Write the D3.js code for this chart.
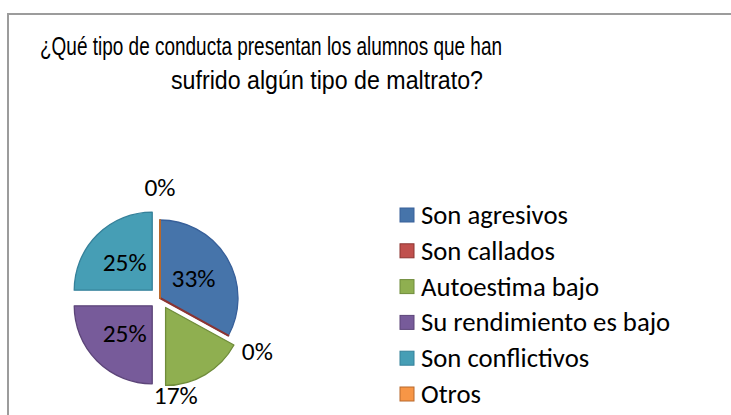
<!DOCTYPE html>
<html>
<head>
<meta charset="utf-8">
<script src="https://cdn.jsdelivr.net/npm/d3@7"></script>
<style>
  html, body { margin: 0; padding: 0; background: #fff; }
  svg { display: block; }
</style>
</head>
<body>
<svg id="chart" width="731" height="415"></svg>
<script>
// ---- data ----
const titleLines = ["¿Qué tipo de conducta presentan los alumnos que han", "sufrido algún tipo de maltrato?"];
const categories = ["Son agresivos", "Son callados", "Autoestima bajo", "Su rendimiento es bajo", "Son conflictivos", "Otros"];
const percentages = [33, 0, 17, 25, 25, 0];

// ---- style ----
const fills   = ["#4674AA", "#C0504D", "#8FAF50", "#775B9A", "#469EB5", "#F79646"];
const strokes = ["#38609A", "#8C3431", "#6F8C3A", "#5C4579", "#35819A", "#B8682C"];
const exploded = new Set(["Autoestima bajo", "Su rendimiento es bajo", "Son conflictivos"]);
const explodeDist = 11;
const cx = 160, cy = 298, R = 78;
const labelFont = "Carlito, Calibri, Lato, 'Open Sans', sans-serif";
const titleFont = "'Liberation Sans Narrow', 'Arial Narrow', 'Liberation Sans', Arial, sans-serif";

const svg = d3.select("#chart");

// outer frame
svg.append("rect")
  .attr("x", 8).attr("y", 14)
  .attr("width", 800).attr("height", 500)
  .attr("fill", "#fff")
  .attr("stroke", "#9c9c9c").attr("stroke-width", 2);

function fitSize(sel, target) {
  const w = sel.node().getComputedTextLength();
  const fs = parseFloat(sel.attr("font-size"));
  return fs * target / w;
}

// title (narrow face: compress glyphs to the reference width)
svg.append("text")
  .attr("x", 40).attr("y", 55)
  .attr("font-family", titleFont).attr("font-size", 26)
  .attr("fill", "#000")
  .attr("textLength", 462).attr("lengthAdjust", "spacingAndGlyphs")
  .text(titleLines[0]);
svg.append("text")
  .attr("x", 171).attr("y", 89)
  .attr("font-family", titleFont).attr("font-size", 26)
  .attr("fill", "#000")
  .attr("textLength", 312).attr("lengthAdjust", "spacingAndGlyphs")
  .text(titleLines[1]);

// pie
const data = categories.map((c, i) => ({ name: c, value: percentages[i], i }));
const pie = d3.pie().sort(null).value(d => d.value).startAngle(0).endAngle(2 * Math.PI);
const arcs = pie(data);
const arc = d3.arc().innerRadius(0).outerRadius(R);

function offset(a) {
  if (!exploded.has(a.data.name)) return [0, 0];
  const m = (a.startAngle + a.endAngle) / 2;
  return [Math.sin(m) * explodeDist, -Math.cos(m) * explodeDist];
}

const g = svg.append("g").attr("transform", `translate(${cx},${cy})`);

const order = arcs.slice().sort((a, b) => (a.value === 0) - (b.value === 0));
g.selectAll("path.slice")
  .data(order)
  .join("path")
  .attr("class", "slice")
  .attr("transform", d => { const o = offset(d); return `translate(${o[0]},${o[1]})`; })
  .attr("d", arc)
  .attr("fill", d => fills[d.data.i])
  .attr("stroke", d => strokes[d.data.i])
  .attr("stroke-width", d => d.value === 0 ? 2 : 1.3)
  .attr("stroke-linejoin", "round");

// labels
const lab = g.selectAll("text.lbl")
  .data(arcs)
  .join("text")
  .attr("class", "lbl")
  .attr("font-family", labelFont)
  .attr("font-size", 24)
  .attr("fill", "#000")
  .attr("text-anchor", "middle")
  .attr("dominant-baseline", "central")
  .text(d => Math.round(d.value) + "%");

const pctSize = fitSize(lab.filter(d => d.index === 0), 44);
lab.attr("font-size", pctSize)
  .attr("transform", d => {
    const o = offset(d);
    const m = (d.startAngle + d.endAngle) / 2;
    if (d.value >= 20) {
      const c = arc.centroid(d);
      return `translate(${c[0] + o[0]},${c[1] + o[1]})`;
    }
    const a = m + 0.7 * (d.endAngle - m);
    const r = d.value === 0 ? 111 : 99;
    return `translate(${Math.sin(a) * r},${-Math.cos(a) * r})`;
  });

// legend
const legY = d3.scalePoint().domain(categories).range([215, 394]);
const rows = svg.append("g").selectAll("g.row").data(data).join("g").attr("class", "row")
  .attr("transform", d => `translate(400,${legY(d.name)})`);
rows.append("rect")
  .attr("x", 0).attr("y", -7).attr("width", 14).attr("height", 14)
  .attr("fill", d => fills[d.i])
  .attr("stroke", d => strokes[d.i]).attr("stroke-width", 1);
const legText = rows.append("text")
  .attr("x", 21).attr("y", 0)
  .attr("dominant-baseline", "central")
  .attr("font-family", labelFont).attr("font-size", 24)
  .attr("fill", "#000")
  .text(d => d.name);
const legSize = fitSize(legText.filter(d => d.i === 0), 147);
legText.attr("font-size", legSize);
</script>
</body>
</html>
